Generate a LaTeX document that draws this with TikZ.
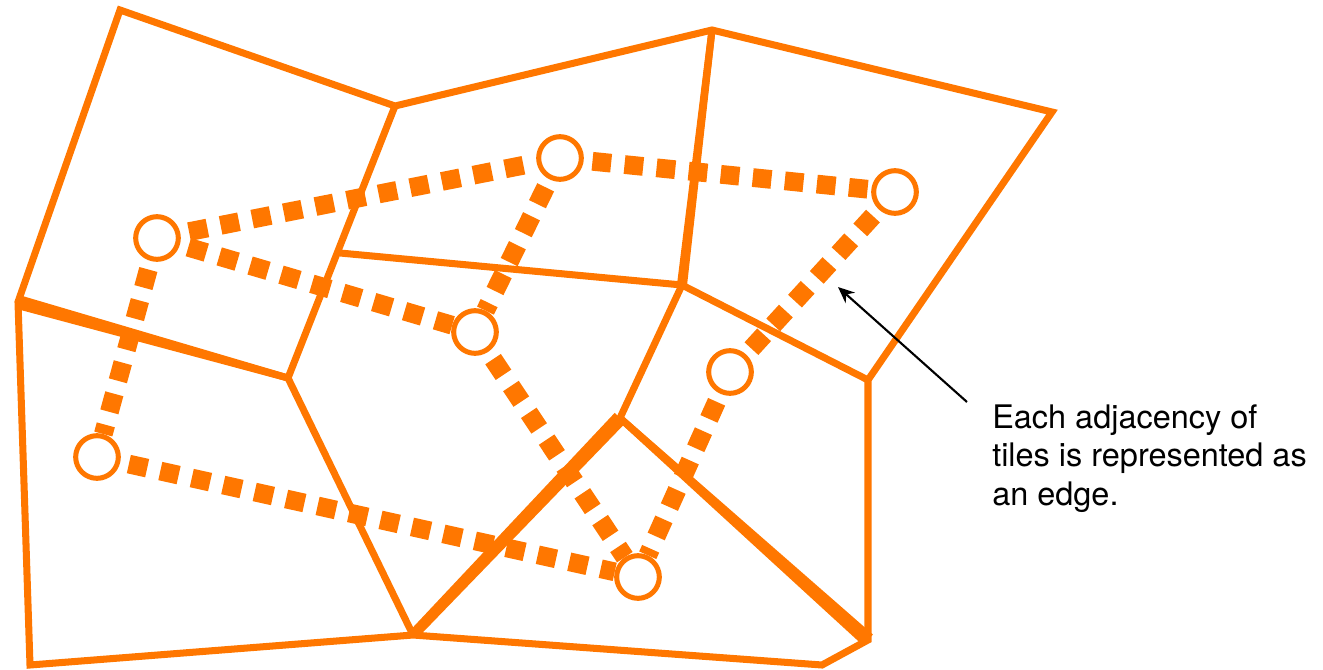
\documentclass[tikz,border=0pt]{standalone}
\usepackage{fontspec}
\setmainfont{TeX Gyre Heros}
\usepackage{tikz}
\usetikzlibrary{calc,arrows.meta}
\definecolor{orangex}{HTML}{FF7700}
\tikzset{
  tl/.style={draw=orangex,line width=6pt,line join=miter},
  tk/.style={circle,draw=orangex,line width=4.3pt,minimum size=1.28cm,inner sep=0pt},
  ad/.style={draw=orangex,line width=16pt,dash pattern=on 16pt off 11.5pt,dash phase=20pt},
  ar/.style={-{Stealth[length=14pt,width=12pt]},line width=1.8pt,black},
  lbl/.style={font=\fontsize{27.7}{32.8}\selectfont,align=left,inner sep=0pt}
}
\newcommand{\taperedge}[4]{\fill[orangex] ($(#1)!#3!90:(#2)$) -- ($(#2)!#4!-90:(#1)$) -- ($(#2)!#4!90:(#1)$) -- ($(#1)!#3!-90:(#2)$) -- cycle;}

\begin{document}
\begin{tikzpicture}[x=0.03cm,y=-0.03cm]
\useasboundingbox (0,0) rectangle (1323,669);
% corners of the tiles
\coordinate (a) at (120,10);
\coordinate (b) at (395,106);
\coordinate (c) at (712,30);
\coordinate (d) at (1052,112);
\coordinate (e) at (18,302);
\coordinate (f) at (340,253);
\coordinate (g) at (682,285);
\coordinate (h) at (288,378);
\coordinate (i) at (620,418);
\coordinate (j) at (868,380);
\coordinate (k) at (30,665);
\coordinate (l) at (413,635);
\coordinate (m) at (822,665);
\coordinate (n) at (868,640);
% tiles
\draw[tl] (a) -- (b) -- (c) -- (d) -- (j) -- (n) -- (m) -- (l) -- (k) -- (e) -- cycle;
\draw[tl] (b) -- (h) -- (l);
\draw[tl] (f) -- (g) -- (c);
\draw[tl] (e) -- (h);
\draw[tl] (j) -- (g) -- (i) -- (l);
\draw[tl] (i) -- (n);
\taperedge{e}{h}{6pt}{3pt}
\taperedge{g}{c}{4.3pt}{3pt}
\taperedge{i}{l}{6.3pt}{4.5pt}
\taperedge{i}{n}{3pt}{6.3pt}
% one circle per tile
\node[tk] (t1) at (157,238) {};
\node[tk] (t2) at (560,158) {};
\node[tk] (t3) at (895,192) {};
\node[tk] (t4) at (475,332) {};
\node[tk] (t5) at (730,372) {};
\node[tk] (t6) at (97,457) {};
\node[tk] (t7) at (638,577) {};
% adjacencies
\draw[ad] (t1) -- (t2);
\draw[ad] (t1) -- (t4);
\draw[ad] (t1) -- (t6);
\draw[ad] (t2) -- (t3);
\draw[ad] (t2) -- (t4);
\draw[ad] (t3) -- (t5);
\draw[ad] (t4) -- (t7);
\draw[ad] (t5) -- (t7);
\draw[ad] (t6) -- (t7);
% note
\coordinate (atl) at (967,402);
\coordinate (ahd) at (838,287);
\draw[ar] (atl) -- (ahd);
\node[lbl,anchor=base west] (note) at (992,505) {Each adjacency of\\tiles is represented as\\an edge.};
\end{tikzpicture}
\end{document}
